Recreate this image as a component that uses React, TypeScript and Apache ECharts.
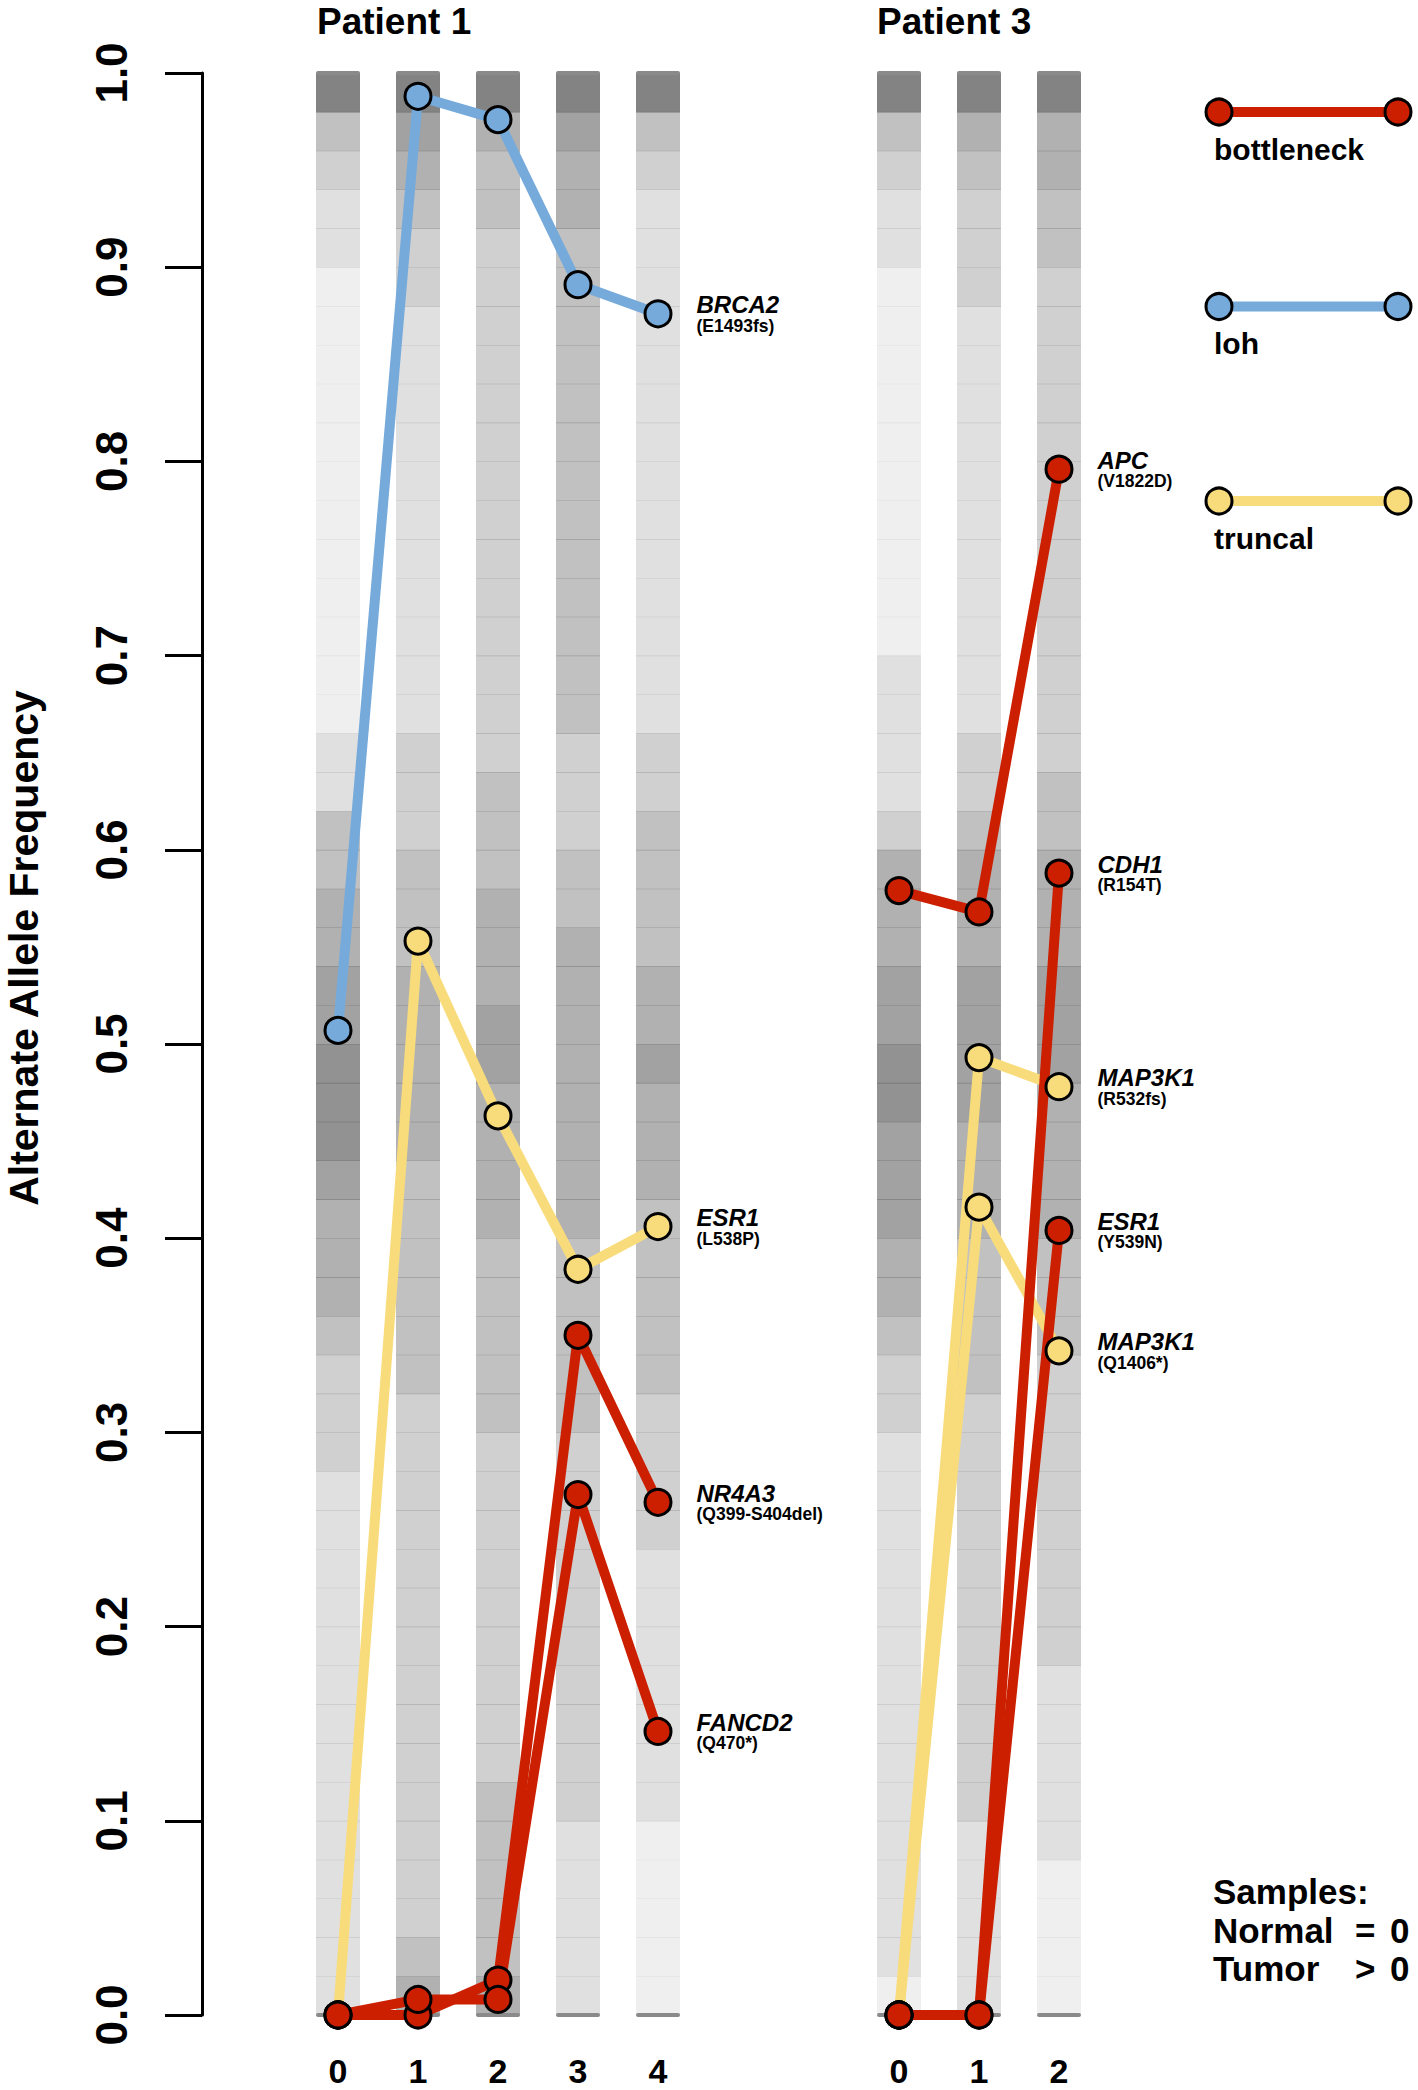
import React, { useEffect, useRef } from "react";
import * as echarts from "echarts";

// ---------- data ----------
const FONT = '"Liberation Sans", Arial, Helvetica, sans-serif';
const RED = "#cc1f00";
const BLUE = "#75aadb";
const YELLOW = "#f8dc7c";

const Y_TICKS_MIN = 0;
const Y_TICKS_MAX = 1;
const Y_TICK_STEP = 0.1;

const P1_SAMPLES = [0, 1, 2, 3, 4];
const P3_SAMPLES = [0, 1, 2];

// Patient 1 mutations (AF per sample)
const P1_BRCA2 = [0.507, 0.988, 0.976, 0.891, 0.876]; // loh
const P1_ESR1 = [0, 0.553, 0.463, 0.384, 0.406]; // truncal
const P1_NR4A3 = [0, 0, 0.018, 0.35, 0.264]; // bottleneck
const P1_FANCD2 = [0, 0.008, 0.008, 0.268, 0.146]; // bottleneck

// Patient 3 mutations
const P3_APC = [0.579, 0.568, 0.796]; // bottleneck
const P3_CDH1 = [0, 0, 0.588]; // bottleneck
const P3_ESR1 = [0, 0, 0.404]; // bottleneck
const P3_MAP3K1_A = [0, 0.493, 0.478]; // truncal
const P3_MAP3K1_B = [0, 0.416, 0.342]; // truncal

// background density strips: 50 bins of 0.02 from AF 0 (first) to AF 1 (last), darkness 0-10
const BIN = 0.02;
const P1_D0 = [2,2,2,2,2, 2,2,2,2,2, 2,2,2,2,3, 3,3,4,5,5, 5,6,7,7,7, 6,6,5,5,4, 4,2,2,1,1, 1,1,1,1,1, 1,1,1,1,1, 2,2,3,4,8];
const P1_D1 = [5,4,3,3,3, 3,3,3,3,3, 3,3,3,3,3, 3,4,4,4,4, 4,4,5,5,5, 5,5,4,4,4, 3,3,3,2,2, 2,2,2,2,2, 2,2,2,2,3, 3,4,5,6,8];
const P1_D2 = [5,4,4,4,4, 4,3,3,3,3, 3,3,3,3,3, 4,4,4,4,4, 5,5,5,5,6, 6,5,5,5,4, 4,4,3,3,3, 3,3,3,3,3, 3,3,3,3,3, 3,4,4,5,8];
const P1_D3 = [2,2,2,2,2, 3,3,3,3,3, 3,3,3,3,3, 4,4,4,4,4, 5,5,5,5,5, 5,5,5,4,4, 3,3,3,4,4, 4,4,4,4,4, 4,4,4,4,4, 4,5,5,6,8];
const P1_D4 = [1,1,1,1,1, 2,2,2,2,2, 2,2,3,3,3, 3,4,4,4,4, 4,5,5,5,6, 5,5,4,4,4, 4,3,3,2,2, 2,2,2,2,2, 2,2,2,2,2, 2,2,3,4,8];
const P3_D0 = [1,2,2,2,2, 2,2,2,2,2, 2,2,2,2,2, 3,3,4,5,5, 6,6,6,7,7, 6,6,5,5,5, 3,2,2,2,2, 1,1,1,1,1, 1,1,1,1,1, 2,2,3,4,8];
const P3_D1 = [2,2,2,2,2, 3,3,3,3,3, 3,3,3,3,3, 3,4,4,4,4, 5,5,5,6,6, 6,6,5,5,5, 4,3,3,2,2, 2,2,2,2,2, 2,2,2,2,3, 3,3,4,5,8];
const P3_D2 = [1,1,1,1,2, 2,2,2,2,3, 3,3,3,3,3, 3,3,4,4,4, 5,5,5,5,6, 6,6,5,5,5, 4,4,3,3,3, 3,3,3,3,3, 3,3,3,3,3, 4,4,5,5,8];

const P1_DENSITY = [P1_D0, P1_D1, P1_D2, P1_D3, P1_D4];
const P3_DENSITY = [P3_D0, P3_D1, P3_D2];

type Mut = { gene: string; change: string; kind: "bottleneck" | "loh" | "truncal"; af: number[] };

const P1_MUTS: Mut[] = [
  { gene: "ESR1", change: "(L538P)", kind: "truncal", af: P1_ESR1 },
  { gene: "BRCA2", change: "(E1493fs)", kind: "loh", af: P1_BRCA2 },
  { gene: "NR4A3", change: "(Q399-S404del)", kind: "bottleneck", af: P1_NR4A3 },
  { gene: "FANCD2", change: "(Q470*)", kind: "bottleneck", af: P1_FANCD2 },
];
const P3_MUTS: Mut[] = [
  { gene: "MAP3K1", change: "(R532fs)", kind: "truncal", af: P3_MAP3K1_A },
  { gene: "MAP3K1", change: "(Q1406*)", kind: "truncal", af: P3_MAP3K1_B },
  { gene: "APC", change: "(V1822D)", kind: "bottleneck", af: P3_APC },
  { gene: "CDH1", change: "(R154T)", kind: "bottleneck", af: P3_CDH1 },
  { gene: "ESR1", change: "(Y539N)", kind: "bottleneck", af: P3_ESR1 },
];

const LEGEND = [
  { name: "bottleneck", color: RED },
  { name: "loh", color: BLUE },
  { name: "truncal", color: YELLOW },
];
const KIND_COLOR: Record<string, string> = { bottleneck: RED, loh: BLUE, truncal: YELLOW };

// ---------- option building ----------
const HALF = 0.275;

function stripSeries(density: number[][], samples: number[], gi: number) {
  const data: number[][] = [];
  density.forEach((bins, si) => {
    bins.forEach((k, bi) => data.push([samples[si], bi * BIN, k]));
  });
  return {
    type: "custom",
    xAxisIndex: gi,
    yAxisIndex: gi,
    z: 1,
    silent: true,
    dimensions: ["x", "lo", "k"],
    encode: { x: 0, y: 1 },
    data,
    renderItem: (params: any, api: any) => {
      const x = api.value(0);
      const lo = api.value(1);
      const k = api.value(2);
      const p0 = api.coord([x - HALF, lo + BIN]);
      const p1 = api.coord([x + HALF, lo]);
      return {
        type: "rect",
        shape: { x: p0[0], y: p0[1], width: p1[0] - p0[0], height: p1[1] - p0[1] + 0.6 },
        style: { fill: `rgba(100,100,100,${k / 10})` },
      };
    },
  };
}

function capSeries(samples: number[], gi: number) {
  return {
    type: "custom",
    xAxisIndex: gi,
    yAxisIndex: gi,
    z: 2,
    silent: true,
    data: samples.map((s) => [s, 0]),
    encode: { x: 0, y: 1 },
    renderItem: (params: any, api: any) => {
      const x = api.value(0);
      const a0 = api.coord([x - HALF, Y_TICKS_MAX]);
      const a1 = api.coord([x + HALF, Y_TICKS_MAX]);
      const b0 = api.coord([x - HALF, Y_TICKS_MIN]);
      const b1 = api.coord([x + HALF, Y_TICKS_MIN]);
      const st = { stroke: "#8a8a8a", lineWidth: 4, lineCap: "round" };
      return {
        type: "group",
        children: [
          { type: "line", shape: { x1: a0[0] + 2, y1: a0[1], x2: a1[0] - 2, y2: a1[1] }, style: st },
          { type: "line", shape: { x1: b0[0] + 2, y1: b0[1], x2: b1[0] - 2, y2: b1[1] }, style: st },
        ],
      };
    },
  };
}

function mutSeries(muts: Mut[], samples: number[], gi: number) {
  const out: any[] = [];
  muts.forEach((m) => {
    const color = KIND_COLOR[m.kind];
    out.push({
      type: "line",
      xAxisIndex: gi,
      yAxisIndex: gi,
      z: 3,
      silent: true,
      clip: false,
      symbol: "none",
      lineStyle: { color, width: 10, cap: "round", join: "round" },
      data: m.af.map((v, i) => [samples[i], v]),
    });
  });
  muts.forEach((m) => {
    const color = KIND_COLOR[m.kind];
    const last = m.af.length - 1;
    out.push({
      type: "scatter",
      xAxisIndex: gi,
      yAxisIndex: gi,
      z: 4,
      silent: true,
      clip: false,
      symbol: "circle",
      symbolSize: 26,
      itemStyle: { color, borderColor: "#000", borderWidth: 3, opacity: 1 },
      data: m.af.map((v, i) =>
        i === last
          ? {
              value: [samples[i], v],
              label: {
                show: true,
                position: "right",
                distance: 24,
                align: "left",
                formatter: `{g|${m.gene}}\n{m|${m.change}}`,
                rich: {
                  g: { fontFamily: FONT, fontSize: 24, fontWeight: "bold", fontStyle: "italic", lineHeight: 24, color: "#000" },
                  m: { fontFamily: FONT, fontSize: 17.5, fontWeight: "bold", lineHeight: 18, color: "#000" },
                },
              },
            }
          : { value: [samples[i], v] }
      ),
    });
  });
  return out;
}

function buildOption() {
  const graphics: any[] = [];
  // titles
  graphics.push({ type: "text", x: 317, y: 21, style: { text: "Patient 1", fontFamily: FONT, fontSize: 37, lineHeight: 38, fontWeight: "bold", fill: "#000", align: "left", verticalAlign: "middle" } });
  graphics.push({ type: "text", x: 877, y: 21, style: { text: "Patient 3", fontFamily: FONT, fontSize: 37, lineHeight: 38, fontWeight: "bold", fill: "#000", align: "left", verticalAlign: "middle" } });
  // y title
  graphics.push({ type: "text", x: 24, y: 948, rotation: Math.PI / 2, style: { text: "Alternate Allele Frequency", fontFamily: FONT, fontSize: 41, lineHeight: 42, fontWeight: "bold", fill: "#000", align: "center", verticalAlign: "middle" } });
  // legend
  LEGEND.forEach((l, i) => {
    const cy = 112 + i * 194.5;
    graphics.push({ type: "line", shape: { x1: 1219, y1: cy, x2: 1398, y2: cy }, style: { stroke: l.color, lineWidth: 10 } });
    graphics.push({ type: "circle", shape: { cx: 1219, cy, r: 13 }, style: { fill: l.color, stroke: "#000", lineWidth: 3 } });
    graphics.push({ type: "circle", shape: { cx: 1398, cy, r: 13 }, style: { fill: l.color, stroke: "#000", lineWidth: 3 } });
    graphics.push({ type: "text", x: 1214, y: cy + 37, style: { text: l.name, fontFamily: FONT, fontSize: 30, fontWeight: "bold", fill: "#000", align: "left", verticalAlign: "middle" } });
  });
  // samples note
  const note = [
    { y: 1891, parts: [["Samples:", 1213]] },
    { y: 1930, parts: [["Normal", 1213], ["=", 1355], ["0", 1390]] },
    { y: 1968, parts: [["Tumor", 1213], [">", 1355], ["0", 1390]] },
  ];
  note.forEach((row) =>
    row.parts.forEach(([t, x]) =>
      graphics.push({ type: "text", x: x as number, y: row.y, style: { text: t as string, fontFamily: FONT, fontSize: 35, lineHeight: 36, fontWeight: "bold", fill: "#000", align: "left", verticalAlign: "middle" } })
    )
  );

  const xLabel = { fontFamily: FONT, fontSize: 34, lineHeight: 32, fontWeight: "bold", color: "#000", margin: 40 };

  return {
    animation: false,
    backgroundColor: "#fff",
    textStyle: { fontFamily: FONT },
    grid: [
      { left: 202, top: 73, width: 496, height: 1942 },
      { left: 859, top: 73, width: 240, height: 1942 },
    ],
    xAxis: [
      {
        gridIndex: 0, type: "value", min: -1.7, max: 4.5,
        axisLine: { show: false }, axisTick: { show: false }, splitLine: { show: false },
        axisLabel: { ...xLabel, customValues: P1_SAMPLES, formatter: (v: number) => String(v) },
      },
      {
        gridIndex: 1, type: "value", min: -0.5, max: 2.5,
        axisLine: { show: false }, axisTick: { show: false }, splitLine: { show: false },
        axisLabel: { ...xLabel, customValues: P3_SAMPLES, formatter: (v: number) => String(v) },
      },
    ],
    yAxis: [
      {
        gridIndex: 0, type: "value", min: Y_TICKS_MIN, max: Y_TICKS_MAX, interval: Y_TICK_STEP,
        splitLine: { show: false },
        axisLine: { show: true, onZero: false, lineStyle: { color: "#000", width: 3 } },
        axisTick: { show: true, inside: false, length: 37, lineStyle: { color: "#000", width: 3 } },
        axisLabel: { rotate: 90, margin: 69, fontFamily: FONT, fontSize: 44, fontWeight: "bold", color: "#000", formatter: (v: number) => v.toFixed(1) },
      },
      { gridIndex: 1, type: "value", min: Y_TICKS_MIN, max: Y_TICKS_MAX, show: false, axisLine: { onZero: false } },
    ],
    series: [
      stripSeries(P1_DENSITY, P1_SAMPLES, 0),
      stripSeries(P3_DENSITY, P3_SAMPLES, 1),
      capSeries(P1_SAMPLES, 0),
      capSeries(P3_SAMPLES, 1),
      ...mutSeries(P1_MUTS, P1_SAMPLES, 0),
      ...mutSeries(P3_MUTS, P3_SAMPLES, 1),
    ],
    graphic: graphics,
  };
}

export default function App() {
  const ref = useRef<HTMLDivElement>(null);
  useEffect(() => {
    const chart = echarts.init(ref.current!, null, { renderer: "svg" });
    chart.setOption(buildOption() as any);
    return () => chart.dispose();
  }, []);
  return <div ref={ref} style={{ position: "absolute", left: 0, top: 0, width: 1418, height: 2090 }} />;
}
